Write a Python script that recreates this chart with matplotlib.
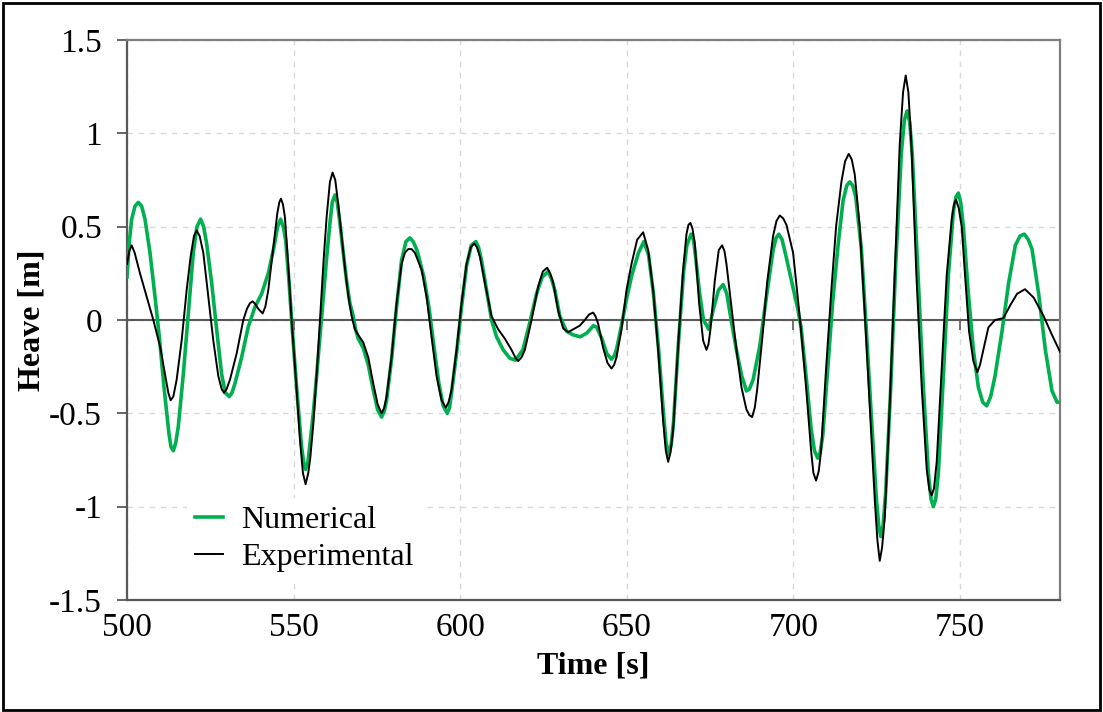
import matplotlib
matplotlib.use("Agg")
import matplotlib.pyplot as plt
from matplotlib.patches import Rectangle

# Heave time histories (time in s, heave in m)
t_num = [500.0, 500.7, 501.4, 502.4, 503.4, 504.4, 505.4, 506.9, 508.4, 509.7,
         511.1, 512.6, 513.2, 513.9, 514.6, 515.4, 516.9, 518.4, 519.9, 521.0,
         522.1, 523.0, 523.9, 525.4, 526.9, 528.4, 529.5, 530.7, 531.5, 532.4,
         534.4, 536.4, 538.4, 540.4, 542.4, 544.1, 545.2, 546.1, 546.9, 547.6,
         548.6, 549.6, 550.9, 552.4, 553.0, 553.6, 554.3, 555.0, 555.9, 556.9,
         557.9, 558.9, 559.9, 560.9, 561.6, 562.4, 563.1, 563.9, 564.9, 565.9,
         566.9, 567.9, 568.6, 569.4, 570.9, 572.4, 573.9, 575.2, 576.4, 577.2,
         577.9, 579.4, 580.9, 582.4, 583.7, 584.9, 585.9, 587.1, 589.1, 590.6,
         592.1, 593.6, 594.9, 596.1, 596.8, 597.4, 598.9, 600.4, 601.9, 603.3,
         604.7, 605.5, 606.4, 607.9, 609.4, 610.9, 612.9, 614.9, 616.6, 618.8,
         620.8, 622.9, 624.6, 626.4, 627.4, 628.4, 629.9, 631.9, 633.9, 636.0,
         638.0, 640.0, 641.0, 642.5, 644.0, 645.4, 646.3, 647.0, 648.5, 650.0,
         651.5, 653.5, 655.1, 656.5, 658.0, 659.5, 661.0, 661.8, 662.6, 663.3,
         664.0, 665.5, 667.0, 668.0, 669.3, 670.0, 670.5, 671.8, 673.0, 674.6,
         676.0, 677.5, 678.9, 680.0, 681.5, 683.0, 684.5, 685.9, 686.8, 687.9,
         689.9, 691.9, 693.9, 694.8, 695.6, 696.6, 697.8, 699.8, 701.3, 702.3,
         703.8, 705.3, 706.3, 707.3, 708.0, 708.8, 710.3, 711.8, 713.4, 714.9,
         716.0, 716.9, 717.8, 718.7, 720.4, 721.9, 723.4, 724.9, 725.6, 726.2,
         726.9, 727.7, 729.2, 730.7, 732.4, 733.3, 734.1, 734.9, 735.7, 737.4,
         739.0, 740.5, 741.3, 742.0, 742.7, 743.5, 745.0, 746.5, 748.0, 748.8,
         749.5, 750.2, 751.0, 752.5, 754.0, 755.5, 756.8, 758.0, 759.2, 760.5,
         762.6, 764.6, 766.6, 768.0, 769.3, 770.5, 771.6, 773.6, 775.6, 777.6,
         779.1, 780.0]
heave_num = [0.23, 0.42, 0.54, 0.61, 0.63, 0.61, 0.54, 0.36, 0.125, -0.09,
             -0.36, -0.61, -0.68, -0.70, -0.66, -0.57, -0.29, 0.036, 0.36, 0.50,
             0.54, 0.50, 0.41, 0.20, -0.05, -0.29, -0.39, -0.41, -0.39, -0.34,
             -0.20, -0.036, 0.07, 0.14, 0.25, 0.39, 0.50, 0.54, 0.50, 0.43,
             0.21, -0.05, -0.36, -0.68, -0.76, -0.80, -0.76, -0.65, -0.50, -0.30,
             -0.09, 0.125, 0.33, 0.52, 0.63, 0.67, 0.63, 0.52, 0.36, 0.21,
             0.09, 0.02, -0.05, -0.10, -0.15, -0.24, -0.375, -0.48, -0.52, -0.49,
             -0.43, -0.21, 0.07, 0.32, 0.42, 0.44, 0.42, 0.37, 0.23, 0.07,
             -0.14, -0.34, -0.46, -0.50, -0.47, -0.39, -0.18, 0.07, 0.29, 0.40,
             0.42, 0.39, 0.32, 0.16, 0.0, -0.09, -0.16, -0.205, -0.215, -0.16,
             -0.02, 0.14, 0.23, 0.26, 0.22, 0.16, 0.02, -0.06, -0.08, -0.09,
             -0.07, -0.03, -0.04, -0.10, -0.18, -0.21, -0.19, -0.15, -0.02, 0.12,
             0.24, 0.36, 0.42, 0.35, 0.14, -0.15, -0.50, -0.66, -0.72, -0.67,
             -0.55, -0.12, 0.25, 0.40, 0.46, 0.43, 0.36, 0.15, 0.0, -0.05,
             0.06, 0.16, 0.19, 0.14, -0.02, -0.17, -0.30, -0.38, -0.37, -0.32,
             -0.14, 0.125, 0.375, 0.44, 0.46, 0.43, 0.34, 0.18, 0.06, -0.04,
             -0.30, -0.58, -0.70, -0.74, -0.71, -0.62, -0.26, 0.10, 0.40, 0.64,
             0.72, 0.74, 0.72, 0.66, 0.38, -0.06, -0.52, -0.96, -1.10, -1.16,
             -1.10, -0.92, -0.36, 0.30, 0.90, 1.07, 1.12, 1.06, 0.88, 0.24,
             -0.36, -0.82, -0.96, -1.00, -0.96, -0.82, -0.30, 0.24, 0.58, 0.66,
             0.68, 0.63, 0.50, 0.14, -0.16, -0.36, -0.44, -0.46, -0.41, -0.30,
             -0.06, 0.20, 0.40, 0.45, 0.46, 0.43, 0.38, 0.14, -0.16, -0.38,
             -0.44, -0.44]

t_exp = [500.0, 500.7, 501.4, 502.3, 503.9, 505.9, 507.9, 509.9, 511.4, 512.4,
         513.1, 513.9, 514.9, 516.4, 517.9, 519.1, 520.1, 520.9, 521.8, 522.9,
         524.4, 525.9, 527.4, 528.4, 529.1, 529.9, 530.9, 532.9, 534.9, 536.0,
         536.9, 537.7, 538.5, 539.4, 540.7, 541.5, 542.4, 543.9, 545.1, 545.7,
         546.2, 546.8, 547.4, 548.4, 549.4, 550.7, 551.9, 552.8, 553.6, 554.4,
         555.0, 555.9, 557.0, 557.9, 559.0, 559.9, 560.9, 561.7, 562.5, 563.4,
         564.4, 565.4, 566.4, 567.4, 568.4, 569.4, 570.9, 572.4, 573.9, 575.2,
         576.4, 577.2, 577.9, 579.4, 580.9, 582.4, 583.4, 584.4, 585.4, 586.4,
         588.4, 589.9, 591.4, 592.9, 594.4, 595.7, 596.5, 597.4, 598.9, 600.4,
         601.9, 603.2, 604.2, 605.0, 605.9, 607.4, 609.4, 611.4, 613.4, 615.4,
         616.5, 617.4, 618.4, 619.4, 621.4, 623.4, 624.8, 626.1, 627.0, 627.9,
         629.4, 630.9, 632.4, 633.9, 635.9, 637.4, 638.7, 639.9, 640.6, 641.4,
         642.9, 644.2, 645.4, 646.2, 646.9, 648.4, 649.9, 651.4, 653.1, 654.9,
         656.4, 657.9, 659.4, 660.9, 661.7, 662.4, 663.1, 663.9, 665.4, 666.9,
         667.9, 668.5, 669.1, 669.7, 670.4, 671.7, 672.9, 673.9, 674.5, 675.1,
         676.4, 677.6, 678.6, 679.3, 679.9, 681.4, 682.9, 684.4, 685.9, 686.8,
         687.6, 688.4, 689.1, 690.7, 692.1, 693.9, 694.9, 695.9, 696.9, 697.9,
         699.9, 701.3, 702.3, 703.8, 705.3, 706.0, 706.8, 707.6, 708.3, 709.8,
         711.3, 712.8, 714.4, 715.5, 716.6, 717.5, 718.4, 719.9, 721.4, 722.9,
         724.4, 725.2, 725.9, 726.6, 727.4, 728.9, 730.4, 731.9, 732.9, 733.7,
         734.5, 735.4, 736.9, 738.5, 740.0, 740.8, 741.5, 742.2, 743.0, 744.5,
         746.0, 747.5, 748.2, 748.8, 749.6, 750.5, 751.5, 752.7, 754.0, 755.2,
         756.0, 757.0, 758.5, 760.5, 763.0, 765.1, 767.1, 769.5, 772.1, 775.1,
         777.6, 780.0]
heave_exp = [0.30, 0.37, 0.40, 0.36, 0.25, 0.125, 0.0, -0.14, -0.29, -0.39,
             -0.43, -0.41, -0.32, -0.11, 0.16, 0.34, 0.45, 0.48, 0.45, 0.36,
             0.125, -0.11, -0.30, -0.37, -0.39, -0.37, -0.32, -0.18, 0.0, 0.06,
             0.09, 0.10, 0.085, 0.06, 0.035, 0.07, 0.16, 0.39, 0.57, 0.63,
             0.65, 0.62, 0.55, 0.29, 0.0, -0.32, -0.64, -0.82, -0.88, -0.82,
             -0.74, -0.56, -0.27, 0.0, 0.32, 0.55, 0.74, 0.79, 0.75, 0.62,
             0.45, 0.28, 0.13, 0.02, -0.05, -0.08, -0.12, -0.20, -0.34, -0.45,
             -0.50, -0.47, -0.41, -0.20, 0.09, 0.30, 0.36, 0.38, 0.38, 0.36,
             0.27, 0.125, -0.09, -0.30, -0.43, -0.47, -0.44, -0.375, -0.16, 0.09,
             0.30, 0.39, 0.41, 0.39, 0.34, 0.20, 0.02, -0.05, -0.10, -0.16,
             -0.20, -0.22, -0.20, -0.16, 0.0, 0.18, 0.26, 0.28, 0.25, 0.20,
             0.05, -0.045, -0.065, -0.05, -0.03, 0.0, 0.03, 0.04, 0.02, -0.02,
             -0.15, -0.23, -0.26, -0.24, -0.20, -0.05, 0.16, 0.30, 0.43, 0.47,
             0.375, 0.16, -0.16, -0.54, -0.70, -0.76, -0.71, -0.59, -0.14, 0.27,
             0.46, 0.51, 0.52, 0.49, 0.41, 0.09, -0.11, -0.16, -0.13, -0.05,
             0.21, 0.375, 0.40, 0.37, 0.30, 0.07, -0.16, -0.36, -0.48, -0.51,
             -0.52, -0.47, -0.375, -0.09, 0.20, 0.45, 0.53, 0.56, 0.545, 0.51,
             0.36, 0.12, -0.06, -0.36, -0.70, -0.82, -0.86, -0.81, -0.70, -0.26,
             0.14, 0.50, 0.74, 0.85, 0.89, 0.86, 0.78, 0.50, 0.04, -0.46,
             -0.96, -1.18, -1.29, -1.22, -1.06, -0.46, 0.24, 0.94, 1.22, 1.31,
             1.22, 0.94, 0.24, -0.36, -0.80, -0.91, -0.94, -0.90, -0.76, -0.26,
             0.24, 0.54, 0.62, 0.645, 0.60, 0.50, 0.24, -0.06, -0.22, -0.28,
             -0.24, -0.16, -0.04, 0.0, 0.01, 0.08, 0.14, 0.165, 0.12, 0.02,
             -0.08, -0.17]

x_ticks = [500, 550, 600, 650, 700, 750]
x_tick_labels = ["500", "550", "600", "650", "700", "750"]
y_ticks = [-1.5, -1.0, -0.5, 0.0, 0.5, 1.0, 1.5]
y_tick_labels = ["-1.5", "-1", "-0.5", "0", "0.5", "1", "1.5"]

GREEN = "#00b050"
AXIS_GREY = "#595959"

plt.rcParams["font.family"] = ["Liberation Serif", "DejaVu Serif"]

fig = plt.figure(figsize=(11.03, 7.12), dpi=100)
ax = fig.add_axes([127 / 1103, 1 - 600 / 712, 933 / 1103, 560 / 712])

ax.plot(t_num, heave_num, color=GREEN, lw=2.6, zorder=3, label="Numerical",
        solid_joinstyle="round")
ax.plot(t_exp, heave_exp, color="black", lw=1.4, zorder=4, label="Experimental",
        solid_joinstyle="round")

ax.set_xlim(500, 780)
ax.set_ylim(-1.5, 1.5)
ax.set_xticks(x_ticks)
ax.set_xticklabels(x_tick_labels)
ax.set_yticks(y_ticks)
ax.set_yticklabels(y_tick_labels)

ax.grid(True, ls=(0, (4, 4)), color="#d9d9d9", lw=1.0, zorder=0)
ax.set_axisbelow(True)

# horizontal axis line through zero with downward tick marks
ax.axhline(0, color=AXIS_GREY, lw=1.5, zorder=2)
ax.plot(x_ticks[1:], [0] * len(x_ticks[1:]), ls="none", marker=3,
        markersize=7, mew=1.2, color=AXIS_GREY, zorder=2)

ax.tick_params(axis="x", length=0, pad=9, labelsize=24)
ax.tick_params(axis="y", direction="out", length=7, width=1.3,
               color=AXIS_GREY, pad=11, labelsize=24)

for side in ("left", "bottom"):
    ax.spines[side].set_color(AXIS_GREY)
    ax.spines[side].set_linewidth(1.6)
for side in ("top", "right"):
    ax.spines[side].set_color("#7f7f7f")
    ax.spines[side].set_linewidth(1.6)

ax.set_xlabel("Time [s]", fontsize=23, fontweight="bold", labelpad=6)
ax.set_ylabel("Heave [m]", fontsize=23, fontweight="bold", labelpad=2)

leg = ax.legend(loc="upper left", bbox_to_anchor=(0.064, 0.182), fontsize=23,
                frameon=True, fancybox=False, edgecolor="none", facecolor="white",
                framealpha=1.0, handlelength=0.9, handletextpad=0.55,
                labelspacing=0.22, borderpad=0.25, borderaxespad=0.0)
leg.set_zorder(5)

fig.patches.append(Rectangle((0.003, 0.003), 0.994, 0.993, transform=fig.transFigure,
                             fill=False, edgecolor="black", lw=2.0))

fig.savefig("out.png", dpi=100, facecolor="white")
